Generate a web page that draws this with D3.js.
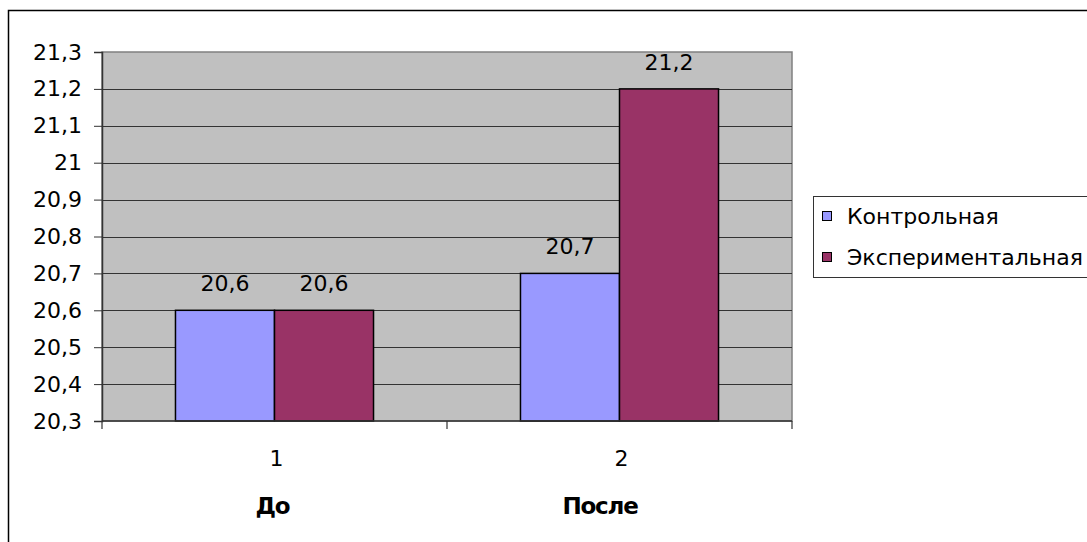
<!DOCTYPE html>
<html>
<head>
<meta charset="utf-8">
<script src="https://cdn.jsdelivr.net/npm/d3@7"></script>
<style>
  html, body { margin: 0; padding: 0; background: #fff; }
  svg { display: block; font-family: "DejaVu Sans", Verdana, sans-serif; }
</style>
</head>
<body>
<svg id="chart" width="1087" height="542"></svg>
<script>
// Data
const categories = ["1", "2"];
const categoryNames = ["До", "После"];
const seriesNames = ["Контрольная", "Экспериментальная"];
const control = [20.6, 20.7];
const experimental = [20.6, 21.2];
const yTicks = [20.3, 20.4, 20.5, 20.6, 20.7, 20.8, 20.9, 21, 21.1, 21.2, 21.3];

const colors = ["#9999FF", "#993366"];
const seriesValues = [control, experimental];

const svg = d3.select("#chart");
const locale = d3.formatLocale({ decimal: ",", thousands: " ", grouping: [3], currency: ["", ""] });
const fmt = v => locale.format("~g")(v);

// Outer frame
svg.append("rect")
  .attr("x", 8.5).attr("y", 10.5)
  .attr("width", 1100).attr("height", 560)
  .attr("fill", "#fff").attr("stroke", "#000").attr("stroke-width", 1.5);

const plot = { left: 102, right: 792, top: 52, bottom: 421 };

const y = d3.scaleLinear().domain([20.3, 21.3]).range([plot.bottom, plot.top]);
const x0 = d3.scaleBand().domain(categories).range([plot.left, plot.right]).padding(0);
const x1 = d3.scaleBand().domain(seriesNames).range([0, x0.bandwidth()]).paddingInner(0).paddingOuter(0.742);

// Plot background
svg.append("rect")
  .attr("x", plot.left).attr("y", plot.top)
  .attr("width", plot.right - plot.left).attr("height", plot.bottom - plot.top)
  .attr("fill", "#C0C0C0").attr("stroke", "#808080").attr("stroke-width", 1.5);

// Horizontal gridlines
svg.append("g")
  .selectAll("line")
  .data(yTicks.slice(1, -1))
  .join("line")
  .attr("x1", plot.left).attr("x2", plot.right)
  .attr("y1", d => Math.round(y(d)) + 0.5).attr("y2", d => Math.round(y(d)) + 0.5)
  .attr("stroke", "#333").attr("stroke-width", 1);

// Bars
const barData = [];
categories.forEach((c, i) => {
  seriesNames.forEach((s, j) => {
    barData.push({ cat: c, series: s, value: seriesValues[j][i], color: colors[j] });
  });
});

svg.append("g")
  .selectAll("rect")
  .data(barData)
  .join("rect")
  .attr("x", d => x0(d.cat) + x1(d.series))
  .attr("y", d => y(d.value))
  .attr("width", x1.bandwidth())
  .attr("height", d => y(20.3) - y(d.value))
  .attr("fill", d => d.color)
  .attr("stroke", "#000").attr("stroke-width", 1.5);

// Value labels
svg.append("g")
  .selectAll("text")
  .data(barData)
  .join("text")
  .attr("x", d => x0(d.cat) + x1(d.series) + x1.bandwidth() / 2)
  .attr("y", d => y(d.value) - 19)
  .attr("text-anchor", "middle")
  .attr("font-size", 22)
  .attr("fill", "#000")
  .text(d => fmt(d.value));

// Y axis
const yAxis = d3.axisLeft(y).tickValues(yTicks).tickSize(8).tickPadding(12).tickFormat(fmt);
const gy = svg.append("g").attr("transform", `translate(${plot.left},0)`).call(yAxis);
gy.select(".domain").attr("stroke", "#333").attr("stroke-width", 1.5);
gy.selectAll(".tick line").attr("stroke", "#333");
gy.selectAll(".tick text").attr("font-size", 22).attr("fill", "#000")
  .attr("font-family", "DejaVu Sans, sans-serif");

// X axis: baseline and category divider ticks
svg.append("line")
  .attr("x1", plot.left).attr("x2", plot.right)
  .attr("y1", plot.bottom).attr("y2", plot.bottom)
  .attr("stroke", "#333").attr("stroke-width", 1.5);
const dividers = [plot.left, ...categories.map(c => x0(c) + x0.bandwidth())];
svg.append("g")
  .selectAll("line")
  .data(dividers)
  .join("line")
  .attr("x1", d => d).attr("x2", d => d)
  .attr("y1", plot.bottom).attr("y2", plot.bottom + 8)
  .attr("stroke", "#333").attr("stroke-width", 1.2);

// Category labels
svg.append("g")
  .selectAll("text")
  .data(categories)
  .join("text")
  .attr("x", d => x0(d) + x0.bandwidth() / 2 + 2)
  .attr("y", 466)
  .attr("text-anchor", "middle")
  .attr("font-size", 22)
  .text(d => d);

// Group titles sit slightly left of the category centre
const titleShift = [-2, -19.5];
svg.append("g")
  .selectAll("text")
  .data(categoryNames)
  .join("text")
  .attr("x", (d, i) => x0(categories[i]) + x0.bandwidth() / 2 + titleShift[i])
  .attr("y", 514)
  .attr("text-anchor", "middle")
  .attr("font-size", 23)
  .attr("font-weight", "bold")
  .attr("letter-spacing", -1.2)
  .text(d => d);

// Legend
const legend = svg.append("g");
legend.append("rect")
  .attr("x", 813.5).attr("y", 196.5)
  .attr("width", 300).attr("height", 81)
  .attr("fill", "#fff").attr("stroke", "#333").attr("stroke-width", 1);
const items = legend.selectAll("g.item")
  .data(seriesNames)
  .join("g")
  .attr("class", "item")
  .attr("transform", (d, i) => `translate(822, ${216 + i * 41})`);
items.append("rect")
  .attr("x", 0.5).attr("y", -4.5)
  .attr("width", 9).attr("height", 9)
  .attr("fill", (d, i) => colors[i])
  .attr("stroke", "#000").attr("stroke-width", 1);
items.append("text")
  .attr("x", 25).attr("y", 8)
  .attr("font-size", 22)
  .attr("letter-spacing", 0)
  .text(d => d);
</script>
</body>
</html>
